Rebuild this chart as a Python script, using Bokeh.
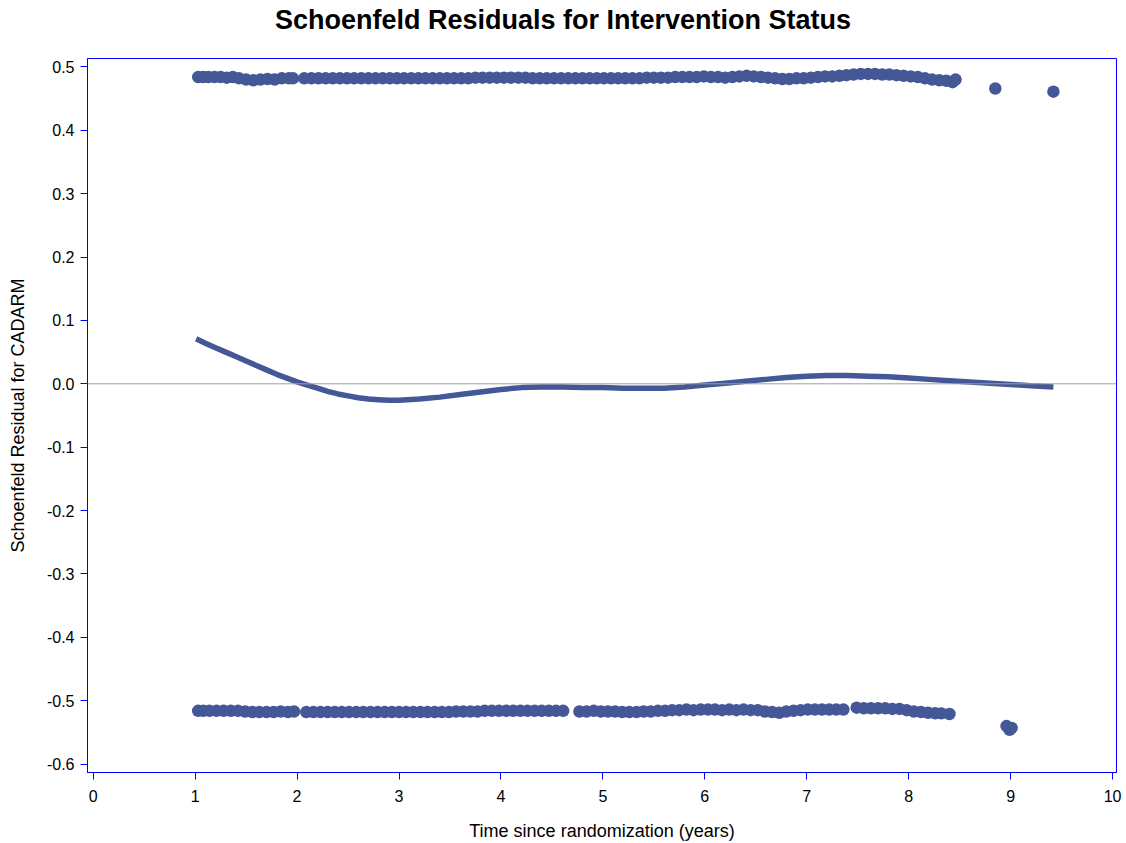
from bokeh.plotting import figure
from bokeh.models import FixedTicker, PrintfTickFormatter, Span, Range1d, Div
from bokeh.layouts import column
from bokeh.embed import file_html
from bokeh.resources import INLINE

# ---- data ----
upper_pts = [
    (1.03, .484), (1.08, .484), (1.13, .484), (1.19, .484), (1.25, .484), (1.31, .483),
    (1.37, .484), (1.43, .482), (1.50, .480), (1.57, .479), (1.64, .480), (1.71, .481),
    (1.78, .480), (1.85, .482), (1.92, .482), (1.96, .482),
    (2.07, .482), (2.14, .482), (2.21, .482), (2.28, .482), (2.35, .482), (2.42, .482),
    (2.49, .482), (2.56, .482), (2.63, .482), (2.70, .482), (2.77, .482), (2.84, .482),
    (2.91, .482), (2.98, .482), (3.05, .482), (3.12, .482), (3.19, .482), (3.26, .482),
    (3.33, .482), (3.40, .482), (3.47, .482), (3.54, .482), (3.61, .482), (3.68, .482),
    (3.75, .483), (3.82, .483), (3.89, .483), (3.96, .483), (4.03, .483), (4.10, .483),
    (4.17, .483), (4.24, .483), (4.31, .482), (4.38, .482), (4.45, .482), (4.52, .482),
    (4.59, .482), (4.66, .482), (4.73, .482), (4.80, .482), (4.87, .482), (4.94, .482),
    (5.01, .482), (5.08, .482), (5.15, .482), (5.22, .482), (5.29, .482), (5.36, .482),
    (5.43, .483), (5.50, .483), (5.57, .483), (5.64, .483), (5.71, .484), (5.78, .484),
    (5.85, .484), (5.92, .484), (5.99, .485), (6.06, .484), (6.13, .484), (6.20, .483),
    (6.27, .484), (6.34, .485), (6.41, .486), (6.48, .485), (6.55, .484), (6.62, .483),
    (6.69, .482), (6.76, .481), (6.83, .481), (6.90, .482), (6.97, .482), (7.04, .483),
    (7.11, .484), (7.18, .485), (7.25, .485), (7.32, .486), (7.39, .487), (7.46, .488),
    (7.53, .489), (7.60, .489), (7.67, .489), (7.74, .488), (7.81, .488), (7.88, .487),
    (7.95, .486), (8.02, .485), (8.09, .484), (8.16, .482), (8.23, .480), (8.30, .479),
    (8.37, .478), (8.43, .476), (8.46, .480), (8.85, .466), (9.42, .461),
]

lower_pts = [
    (1.03, -.516), (1.08, -.516), (1.14, -.516), (1.21, -.516), (1.28, -.516), (1.35, -.516),
    (1.42, -.516), (1.49, -.517), (1.56, -.518), (1.63, -.518), (1.70, -.518), (1.77, -.518),
    (1.84, -.517), (1.91, -.518), (1.97, -.517),
    (2.09, -.518), (2.16, -.518), (2.23, -.518), (2.30, -.518), (2.37, -.518), (2.44, -.518),
    (2.51, -.518), (2.58, -.518), (2.65, -.518), (2.72, -.518), (2.79, -.518), (2.86, -.518),
    (2.93, -.518), (3.00, -.518), (3.07, -.518), (3.14, -.518), (3.21, -.518), (3.28, -.518),
    (3.35, -.518), (3.42, -.518), (3.49, -.518), (3.56, -.517), (3.63, -.517), (3.70, -.517),
    (3.77, -.517), (3.84, -.516), (3.91, -.516), (3.98, -.516), (4.05, -.516), (4.12, -.516),
    (4.19, -.516), (4.26, -.516), (4.33, -.516), (4.40, -.516), (4.47, -.516), (4.54, -.516),
    (4.61, -.516),
    (4.77, -.517), (4.84, -.517), (4.91, -.516), (4.98, -.517), (5.05, -.517), (5.12, -.517),
    (5.19, -.518), (5.26, -.518), (5.33, -.518), (5.40, -.517), (5.47, -.517), (5.54, -.516),
    (5.61, -.516), (5.68, -.515), (5.75, -.515), (5.82, -.514), (5.89, -.515), (5.96, -.514),
    (6.03, -.514), (6.10, -.514), (6.17, -.515), (6.24, -.514), (6.31, -.515), (6.38, -.514),
    (6.45, -.515), (6.52, -.515), (6.59, -.517), (6.66, -.518), (6.73, -.519), (6.80, -.517),
    (6.87, -.516), (6.94, -.515), (7.01, -.514), (7.08, -.514), (7.15, -.514), (7.22, -.514),
    (7.29, -.514), (7.36, -.514),
    (7.49, -.511), (7.56, -.512), (7.63, -.512), (7.70, -.512), (7.77, -.512), (7.84, -.513),
    (7.91, -.513), (7.98, -.515), (8.05, -.517), (8.12, -.518), (8.19, -.519), (8.26, -.520),
    (8.32, -.520), (8.40, -.521),
    (8.96, -.540), (8.99, -.546), (9.01, -.543),
]

smooth_x = [1.01, 1.1, 1.2, 1.3, 1.4, 1.5, 1.6, 1.7, 1.8, 1.9, 2.0, 2.1, 2.2, 2.3, 2.4,
            2.5, 2.6, 2.7, 2.8, 2.9, 3.0, 3.2, 3.4, 3.6, 3.8, 4.0, 4.2, 4.4, 4.6, 4.8,
            5.0, 5.2, 5.4, 5.6, 5.8, 6.0, 6.2, 6.4, 6.6, 6.8, 7.0, 7.2, 7.4, 7.6, 7.8,
            8.0, 8.2, 8.4, 8.6, 8.8, 9.0, 9.2, 9.42]
smooth_y = [0.071, 0.064, 0.057, 0.050, 0.043, 0.036, 0.029, 0.022, 0.015, 0.009, 0.003,
            -0.002, -0.007, -0.012, -0.016, -0.019, -0.022, -0.024, -0.025, -0.026, -0.026,
            -0.024, -0.021, -0.017, -0.013, -0.009, -0.006, -0.005, -0.005, -0.006,
            -0.006, -0.007, -0.007, -0.007, -0.005, -0.002, 0.001, 0.004, 0.007, 0.010,
            0.012, 0.013, 0.013, 0.012, 0.011, 0.009, 0.007, 0.005, 0.003, 0.001, -0.001,
            -0.003, -0.005]

x_ticks = [0, 1, 2, 3, 4, 5, 6, 7, 8, 9, 10]
y_ticks = [-0.6, -0.5, -0.4, -0.3, -0.2, -0.1, 0.0, 0.1, 0.2, 0.3, 0.4, 0.5]

title_text = "Schoenfeld Residuals for Intervention Status"
x_label = "Time since randomization (years)"
y_label = "Schoenfeld Residual for CADARM"

# ---- figure ----
MARK = "#445796"
BLUE = "#0000ff"
FONT = "Liberation Sans"

title_div = Div(text=title_text, width=1126, height=40, margin=(0, 0, 0, 0),
                styles={"font-family": FONT, "font-size": "27px", "font-weight": "bold",
                        "text-align": "center", "line-height": "40px", "color": "#000000",
                        "width": "1126px", "display": "block"})

p = figure(width=1126, height=803, output_backend="svg", toolbar_location=None,
           x_range=Range1d(-0.056, 10.039), y_range=Range1d(-0.6133, 0.5133),
           min_border_left=87, min_border_right=10, min_border_top=18, min_border_bottom=71,
           margin=(0, 0, 0, 0))

p.grid.visible = False
p.outline_line_color = BLUE
p.outline_line_width = 1
p.background_fill_color = "white"
p.border_fill_color = "white"

zero = Span(location=0, dimension="width", line_color="#a0a0a0", line_width=1)
p.add_layout(zero)

ux = [a for a, b in upper_pts]
uy = [b for a, b in upper_pts]
lx = [a for a, b in lower_pts]
ly = [b for a, b in lower_pts]

p.scatter(ux, uy, size=12.5, marker="circle", fill_color=MARK, line_color=None)
p.scatter(lx, ly, size=12.5, marker="circle", fill_color=MARK, line_color=None)
p.line(smooth_x, smooth_y, line_color=MARK, line_width=5.5)

for ax in (p.xaxis[0], p.yaxis[0]):
    ax.axis_line_color = BLUE
    ax.major_tick_line_color = BLUE
    ax.minor_tick_line_color = None
    ax.major_tick_in = 0
    ax.major_tick_out = 7
    ax.major_label_text_font = FONT
    ax.major_label_text_font_size = "16px"
    ax.major_label_text_color = "#000000"
    ax.axis_label_text_font = FONT
    ax.axis_label_text_font_size = "18px"
    ax.axis_label_text_font_style = "normal"
    ax.axis_label_text_color = "#000000"

p.xaxis.ticker = FixedTicker(ticks=x_ticks)
p.yaxis.ticker = FixedTicker(ticks=y_ticks)
p.yaxis.formatter = PrintfTickFormatter(format="%.1f")
p.xaxis.axis_label = x_label
p.yaxis.axis_label = y_label
p.xaxis.major_label_standoff = 10
p.yaxis.major_label_standoff = 6
p.xaxis.axis_label_standoff = 16
p.yaxis.axis_label_standoff = 16

layout = column(title_div, p, spacing=0, margin=(0, 0, 0, 0))
open("out.html", "w").write(file_html(layout, INLINE))
